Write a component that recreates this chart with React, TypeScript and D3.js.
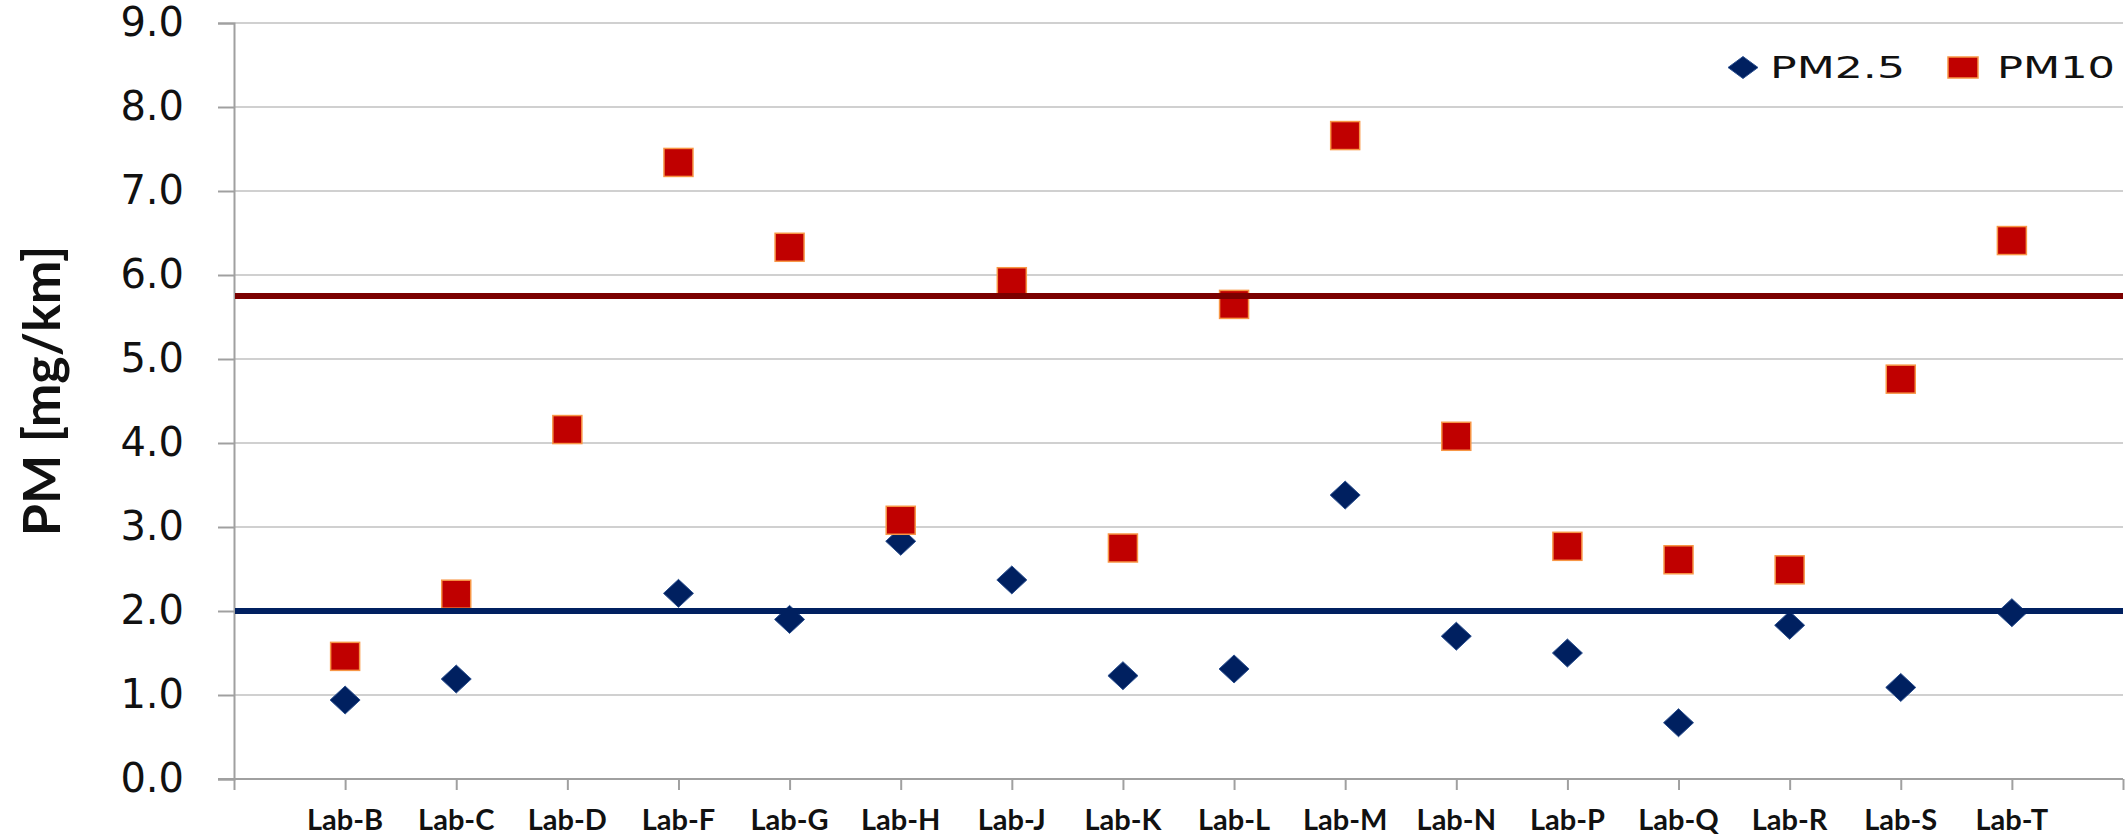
// @ts-nocheck
import React from "react";
import * as d3 from "d3";

const labs = ["Lab-B", "Lab-C", "Lab-D", "Lab-F", "Lab-G", "Lab-H", "Lab-J", "Lab-K",
  "Lab-L", "Lab-M", "Lab-N", "Lab-P", "Lab-Q", "Lab-R", "Lab-S", "Lab-T"];
const pm10 = [1.46, 2.20, 4.16, 7.34, 6.33, 3.08, 5.92, 2.75, 5.65, 7.66, 4.08, 2.77, 2.61, 2.49, 4.76, 6.41];
const pm25 = [0.94, 1.19, null, 2.21, 1.90, 2.83, 2.37, 1.23, 1.31, 3.38, 1.70, 1.50, 0.67, 1.83, 1.09, 1.98];
const yTicks = [0, 1, 2, 3, 4, 5, 6, 7, 8, 9];
const limitPM10 = 5.75;
const limitPM25 = 2.0;
const seriesNames = ["PM2.5", "PM10"];

const W = 2126, H = 838;

const App = () => {
  const svgRef = React.useRef(null);

  React.useEffect(() => {
    const x = d3.scaleLinear().domain([0, labs.length + 1]).range([234, 2123]);
    const y = d3.scaleLinear().domain([0, 9]).range([779, 23]);

    const svg = d3.select(svgRef.current);
    svg.selectAll("*").remove();

    // horizontal grid
    svg.append("g")
      .selectAll("line")
      .data(yTicks.filter(t => t > 0))
      .enter().append("line")
      .attr("x1", x(0)).attr("x2", x(17))
      .attr("y1", d => y(d)).attr("y2", d => y(d))
      .attr("stroke", "#d0d0d0").attr("stroke-width", 2);

    // y axis
    const yAxis = d3.axisLeft(y).tickValues(yTicks).tickSize(16).tickPadding(34)
      .tickFormat(d3.format(".1f"));
    const yg = svg.append("g").attr("transform", `translate(${x(0)},0)`).call(yAxis);
    yg.select(".domain").attr("stroke", "#a0a0a0").attr("stroke-width", 2);
    yg.selectAll("line").attr("stroke", "#a0a0a0").attr("stroke-width", 2);
    yg.selectAll("text")
      .attr("font-family", "DejaVu Sans").attr("font-size", 40).attr("fill", "#111");

    // x axis
    const xAxis = d3.axisBottom(x).tickValues(d3.range(0, 18)).tickSize(11).tickFormat("");
    const xg = svg.append("g").attr("transform", `translate(0,${y(0)})`).call(xAxis);
    xg.select(".domain").attr("d", `M${x(0) - 16},0H${x(17)}`)
      .attr("stroke", "#a0a0a0").attr("stroke-width", 2);
    xg.selectAll("line").attr("stroke", "#a0a0a0").attr("stroke-width", 2);

    svg.append("g")
      .selectAll("text")
      .data(labs)
      .enter().append("text")
      .attr("x", (d, i) => x(i + 1))
      .attr("y", 830)
      .attr("text-anchor", "middle")
      .attr("font-family", "Lato").attr("font-weight", "bold").attr("font-size", 29)
      .attr("fill", "#111")
      .text(d => d);

    // y title
    svg.append("text")
      .attr("transform", "translate(60,391) rotate(-90)")
      .attr("text-anchor", "middle")
      .attr("font-family", "Lato").attr("font-weight", "bold").attr("font-size", 52)
      .attr("fill", "#111")
      .text("PM [mg/km]");

    const diamond = (cx, cy, w, h) => `M${cx},${cy - h / 2}L${cx + w / 2},${cy}L${cx},${cy + h / 2}L${cx - w / 2},${cy}Z`;

    // PM2.5 diamonds
    svg.append("g")
      .selectAll("path")
      .data(pm25.map((v, i) => [i + 1, v]).filter(d => d[1] != null))
      .enter().append("path")
      .attr("d", d => diamond(x(d[0]), y(d[1]), 30, 28))
      .attr("fill", "#002060").attr("stroke", "#2a4f8f").attr("stroke-width", 1);

    // PM10 squares
    svg.append("g")
      .selectAll("rect")
      .data(pm10.map((v, i) => [i + 1, v]))
      .enter().append("rect")
      .attr("x", d => x(d[0]) - 14.5).attr("y", d => y(d[1]) - 14)
      .attr("width", 29).attr("height", 28)
      .attr("fill", "#c00000").attr("stroke", "#f79646").attr("stroke-width", 1.5);

    // limit lines
    svg.append("line")
      .attr("x1", x(0) + 1).attr("x2", x(17))
      .attr("y1", y(limitPM10)).attr("y2", y(limitPM10))
      .attr("stroke", "#7b0000").attr("stroke-width", 6);
    svg.append("line")
      .attr("x1", x(0) + 1).attr("x2", x(17))
      .attr("y1", y(limitPM25)).attr("y2", y(limitPM25))
      .attr("stroke", "#002060").attr("stroke-width", 6);

    // legend
    const lg = svg.append("g");
    lg.append("path").attr("d", diamond(1743, 67.5, 30, 22))
      .attr("fill", "#002060").attr("stroke", "#2a4f8f").attr("stroke-width", 1);
    lg.append("text").attr("x", 1770).attr("y", 78)
      .attr("font-family", "DejaVu Sans").attr("font-size", 31).attr("fill", "#111")
      .attr("textLength", 135).attr("lengthAdjust", "spacingAndGlyphs")
      .text(seriesNames[0]);
    lg.append("rect").attr("x", 1948).attr("y", 57).attr("width", 30).attr("height", 21)
      .attr("fill", "#c00000").attr("stroke", "#f79646").attr("stroke-width", 1.5);
    lg.append("text").attr("x", 1997).attr("y", 78)
      .attr("font-family", "DejaVu Sans").attr("font-size", 31).attr("fill", "#111")
      .attr("textLength", 118).attr("lengthAdjust", "spacingAndGlyphs")
      .text(seriesNames[1]);
  }, []);

  return (
    <svg ref={svgRef} width={W} height={H}
      style={{ position: "absolute", left: 0, top: 0, background: "#fff" }} />
  );
};

export default App;
